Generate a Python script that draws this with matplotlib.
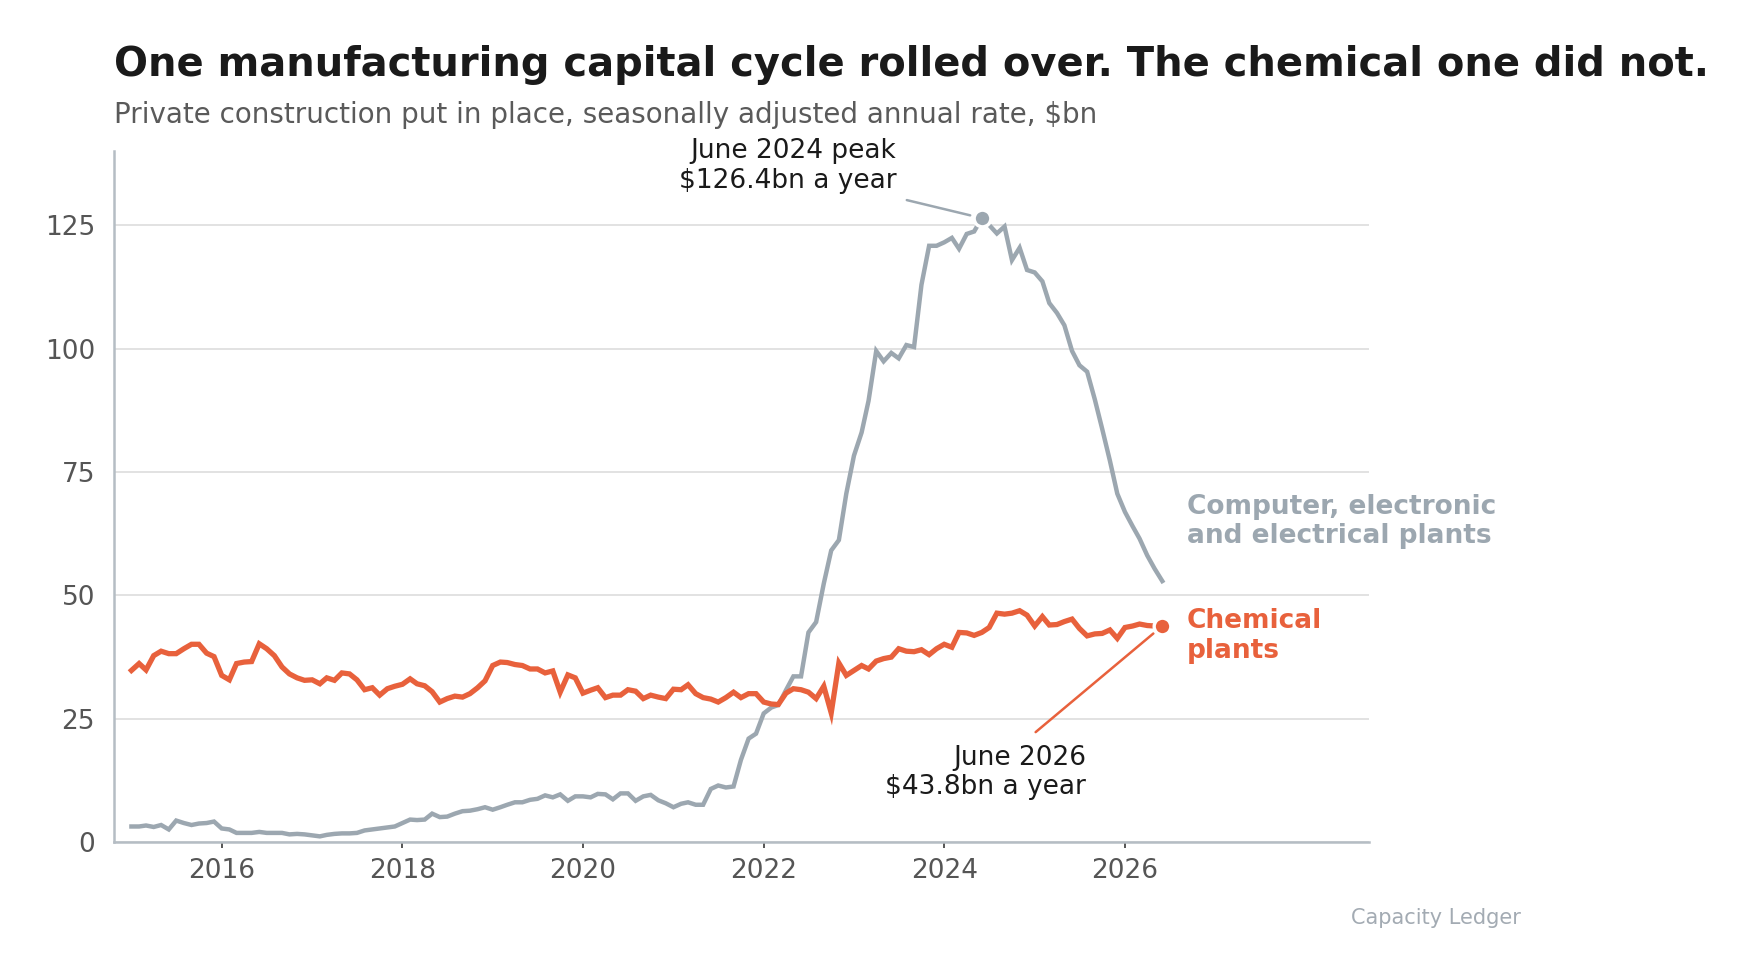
import numpy as np
import pandas as pd
import matplotlib
matplotlib.use("Agg")
import matplotlib.pyplot as plt
import matplotlib.dates as mdates

# monthly series, Jan 2015 .. Jun 2026, $bn SAAR
start_month = "2015-01-01"

chemical = [
    34.8, 36.2, 34.9, 37.8, 38.7, 38.2, 38.2, 39.2, 40.1, 40.1, 38.3, 37.6,
    33.8, 32.9, 36.2, 36.5, 36.6, 40.2, 39.2, 37.8, 35.5, 34.1, 33.3, 32.8,
    32.9, 32.1, 33.3, 32.8, 34.3, 34.1, 32.9, 30.9, 31.3, 29.8, 31.1, 31.6,
    32.0, 33.1, 32.1, 31.7, 30.5, 28.4, 29.1, 29.6, 29.4, 30.1, 31.3, 32.7,
    35.8, 36.5, 36.4, 36.0, 35.8, 35.1, 35.1, 34.3, 34.7, 30.4, 33.9, 33.3,
    30.2, 30.8, 31.3, 29.3, 29.8, 29.8, 30.9, 30.6, 29.1, 29.8, 29.4, 29.1,
    31.0, 30.9, 31.9, 30.1, 29.3, 29.0, 28.4, 29.3, 30.4, 29.3, 30.1, 30.1,
    28.4, 28.0, 27.9, 30.2, 31.1, 30.9, 30.4, 29.1, 31.6, 26.2, 36.3, 33.8,
    34.8, 35.8, 35.1, 36.7, 37.2, 37.5, 39.2, 38.7, 38.6, 39.0, 38.0, 39.2,
    40.1, 39.5, 42.5, 42.4, 41.9, 42.5, 43.5, 46.4, 46.2, 46.4, 46.9, 46.0,
    43.8, 45.7, 44.0, 44.1, 44.7, 45.2, 43.3, 41.8, 42.2, 42.3, 43.0, 41.3,
    43.5, 43.8, 44.2, 43.9, 43.8, 43.8,
]

computer = [
    3.2, 3.2, 3.4, 3.1, 3.5, 2.6, 4.4, 3.9, 3.5, 3.8, 3.9, 4.2,
    2.8, 2.6, 1.9, 1.9, 1.9, 2.1, 1.9, 1.9, 1.9, 1.6, 1.7, 1.6,
    1.4, 1.2, 1.5, 1.7, 1.8, 1.8, 1.9, 2.4, 2.6, 2.8, 3.0, 3.2,
    3.9, 4.6, 4.5, 4.6, 5.8, 5.1, 5.2, 5.8, 6.3, 6.4, 6.7, 7.1,
    6.6, 7.1, 7.6, 8.1, 8.1, 8.6, 8.8, 9.5, 9.1, 9.7, 8.4, 9.3,
    9.3, 9.1, 9.8, 9.7, 8.7, 9.9, 9.9, 8.4, 9.3, 9.6, 8.5, 7.9,
    7.1, 7.8, 8.1, 7.6, 7.6, 10.8, 11.5, 11.1, 11.3, 16.7, 21.0, 22.0,
    26.1, 27.3, 27.8, 30.8, 33.6, 33.6, 42.5, 44.6, 52.4, 59.1, 61.2, 70.6,
    78.3, 83.0, 89.4, 99.5, 97.4, 99.1, 98.0, 100.7, 100.3, 112.9, 120.8, 120.8,
    121.5, 122.4, 120.2, 123.2, 123.7, 126.4, 125.0, 123.3, 124.7, 117.9, 120.4, 115.9,
    115.4, 113.6, 109.2, 107.2, 104.7, 99.5, 96.6, 95.3, 89.7, 83.7, 77.3, 70.6,
    66.9, 64.0, 61.5, 58.1, 55.4, 52.9,
]

dates = pd.date_range(start_month, periods=len(chemical), freq="MS")
tick_years = [2016, 2018, 2020, 2022, 2024, 2026]

title = "One manufacturing capital cycle rolled over. The chemical one did not."
subtitle = "Private construction put in place, seasonally adjusted annual rate, $bn"
source = "Capacity Ledger"
computer_label = "Computer, electronic\nand electrical plants"
chemical_label = "Chemical\nplants"

ORANGE = "#E8613C"
GREY = "#9CA7B0"
INK = "#1a1a1a"
MUTED = "#555555"
LS = 1.18

fig = plt.figure(figsize=(8.76, 4.88), dpi=200)
ax = fig.add_axes([0.065, 0.137, 0.7164, 0.7083])

ax.plot(dates, computer, color=GREY, lw=1.6, solid_joinstyle="miter", zorder=3)
ax.plot(dates, chemical, color=ORANGE, lw=1.9, solid_joinstyle="miter", zorder=4)

# peak of the computer series
pk = int(np.argmax(computer))
ax.plot(dates[pk], computer[pk], "o", ms=6, color=GREY, mec="white", mew=1.2, zorder=5)
ax.annotate("", xy=(dates[pk], computer[pk]), xytext=(-27, 6.5), textcoords="offset points",
            arrowprops=dict(arrowstyle="-", color=GREY, lw=0.9, shrinkA=0, shrinkB=4.3))
ax.annotate("June 2024 peak\n$%.1fbn a year" % computer[pk], xy=(dates[pk], computer[pk]),
            xytext=(-30.8, 8.7), textcoords="offset points", ha="right", va="bottom",
            fontsize=9.5, color=INK, linespacing=LS, annotation_clip=False)

# last chemical value
ax.plot(dates[-1], chemical[-1], "o", ms=6, color=ORANGE, mec="white", mew=1.2, zorder=5)
ax.annotate("", xy=(dates[-1], chemical[-1]), xytext=(-45.6, -38.2), textcoords="offset points",
            arrowprops=dict(arrowstyle="-", color=ORANGE, lw=0.9, shrinkA=0, shrinkB=4.2))
ax.annotate("June 2026\n$%.1fbn a year" % chemical[-1], xy=(dates[-1], chemical[-1]),
            xytext=(-27.4, -42.8), textcoords="offset points", ha="right", va="top",
            fontsize=9.5, color=INK, linespacing=LS, annotation_clip=False)

# direct labels
ax.annotate(computer_label, xy=(dates[-1], computer[-1]), xytext=(8.9, 21.4),
            textcoords="offset points", ha="left", va="center", fontsize=9.5,
            fontweight="bold", color=GREY, linespacing=LS, annotation_clip=False)
ax.annotate(chemical_label, xy=(dates[-1], chemical[-1]), xytext=(8.9, -3.6),
            textcoords="offset points", ha="left", va="center", fontsize=9.5,
            fontweight="bold", color=ORANGE, linespacing=LS, annotation_clip=False)

ax.set_ylim(0, 140)
ax.set_yticks([0, 25, 50, 75, 100, 125])
ax.set_xlim(pd.Timestamp("2014-10-22"), pd.Timestamp("2028-09-14"))
ax.set_xticks([pd.Timestamp(year=y, month=1, day=1) for y in tick_years])
ax.xaxis.set_major_formatter(mdates.DateFormatter("%Y"))

ax.yaxis.grid(True, color="#E2E2E2", lw=0.7)
ax.set_axisbelow(True)
for s in ["top", "right"]:
    ax.spines[s].set_visible(False)
for s in ["left", "bottom"]:
    ax.spines[s].set_color("#B5BDC4")
    ax.spines[s].set_linewidth(0.9)

ax.tick_params(axis="x", length=2.2, width=0.7, color="#555555", labelcolor=MUTED,
               labelsize=9.5, pad=3.5)
ax.tick_params(axis="y", length=0, labelcolor=MUTED, labelsize=9.5, pad=6.8)

fig.text(0.065, 0.922, title, fontsize=14.4, fontweight="bold", color=INK, va="baseline")
fig.text(0.065, 0.874, subtitle, fontsize=10, color="#5a5a5a", va="baseline")
fig.text(0.868, 0.0594, source, fontsize=7.5, color="#A3ABB3", ha="right", va="center")

fig.savefig("out.png", dpi=200)
